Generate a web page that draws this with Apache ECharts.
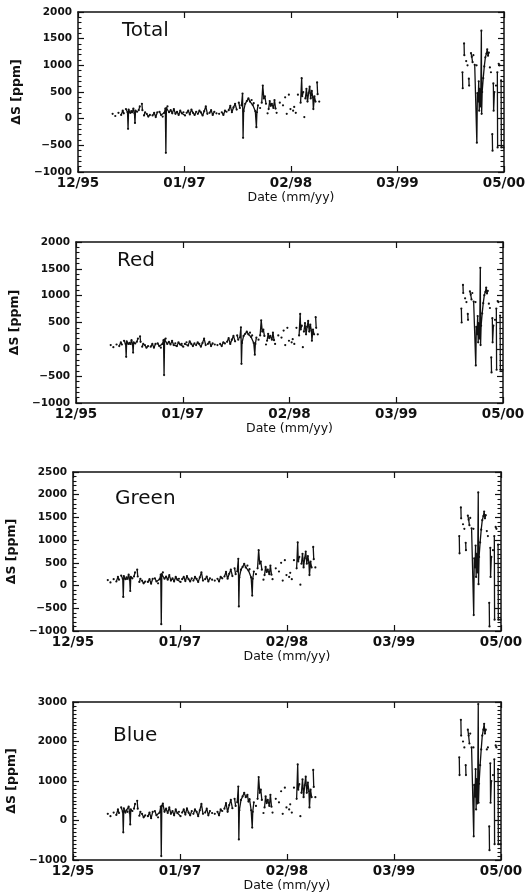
<!DOCTYPE html>
<html><head><meta charset="utf-8">
<script src="https://cdn.jsdelivr.net/npm/echarts@6/dist/echarts.min.js"></script>
<style>html,body{margin:0;padding:0;background:#fff}#c{width:528px;height:896px}</style>
</head><body><div id="c"></div>
<script>
// x positions are days since the 12/95 tick; ticks every 400 days
const tickLabels = ['12/95', '01/97', '02/98', '03/99', '05/00'];
const tickStep = 400;

const days = [
  130,140,152,162,168,172,180,186,188,190,
  196,200,204,208,212,214,216,222,228,232,
  240,242,248,252,258,264,270,280,286,292,
  298,306,312,318,324,328,330,332,336,342,
  348,354,360,366,372,378,384,390,396,402,
  408,414,420,426,432,438,444,450,456,462,
  468,474,480,486,494,500,506,512,520,530,
  540,546,552,558,566,572,578,584,590,596,
  604,608,614,618,620,622,628,634,640,646,
  652,656,660,666,670,672,676,684,690,694,
  698,702,706,712,716,720,724,728,734,738,
  742,746,758,770,778,784,792,798,808,812,
  818,826,836,840,842,846,850,854,858,862,
  866,870,874,878,882,884,888,892,898,900,
  906,1444,1445,1450,1451,1458,1463,1468,1469,1476,
  1479,1482,1485,1490,1497,1498,1500,1503,1505,1507,
  1509,1511,1513,1515,1516,1518,1522,1526,1530,1534,
  1537,1540,1543,1547,1551,1556,1557,1560,1561,1564,
  1570,1575,1576,1580,1583,1589,1590,1598
];

// the line is broken after these days (gaps in the record)
const breakAfter = [130,140,152,172,222,232,242,252,270,298,402,444,486,512,520,530,558,596,608,676,684,706,712,742,746,758,770,778,784,792,798,808,812,818,826,846,850,892,900,906,1445,1451,1458,1463,1469,1482,1485,1543,1547,1551,1557,1564,1570,1576,1583];

const total = [
  90,50,110,70,150,100,180,120,-190,170,
  110,140,120,190,100,-80,150,130,160,230,
  280,160,60,120,90,40,70,60,110,30,
  120,130,70,40,110,190,-640,200,230,120,
  160,100,180,90,130,70,150,100,120,60,
  110,150,80,170,110,70,130,90,150,120,
  60,140,230,90,110,160,70,130,100,90,
  120,70,150,130,160,240,120,210,280,170,
  300,200,250,470,-360,140,280,330,380,320,
  350,260,290,140,-160,120,250,200,300,620,
  380,420,280,100,180,330,240,280,200,350,
  190,110,300,250,400,90,450,180,150,220,
  110,450,300,760,420,500,30,380,560,320,
  480,600,380,520,400,180,420,320,680,460,
  320,870,570,1410,1190,1080,1000,750,620,1230,
  1160,1060,1190,1010,1000,-450,480,320,700,150,
  560,230,520,1650,90,500,760,980,1150,1220,
  1300,1180,1240,960,870,-290,-600,660,150,500,
  620,870,-540,1030,1000,720,-540,-540
];

const red = [
  80,40,90,60,130,90,160,100,-140,150,
  100,120,100,170,90,-60,130,110,140,200,
  240,140,50,100,80,30,60,50,100,30,
  100,110,60,30,100,170,-480,180,200,100,
  140,90,160,80,110,60,130,90,100,50,
  100,130,70,150,100,60,110,80,130,100,
  50,120,200,80,100,140,60,110,90,80,
  100,60,130,110,140,210,100,180,250,150,
  260,180,220,410,-270,120,250,290,330,280,
  310,230,260,120,-100,100,220,180,260,540,
  330,370,250,90,160,290,210,250,180,310,
  170,100,260,220,350,80,400,160,130,190,
  100,400,260,660,370,440,40,330,490,280,
  420,530,330,460,350,160,370,280,600,400,
  280,760,500,1200,1050,950,880,660,550,1080,
  1020,930,1050,890,880,-300,420,280,620,130,
  490,200,460,1520,80,440,670,860,1010,1070,
  1150,1040,1090,850,770,-150,-430,580,130,440,
  550,760,-380,900,880,630,-380,-380
];

const green = [
  120,70,140,90,190,130,220,150,-250,210,
  140,180,150,240,130,-120,190,160,200,290,
  350,200,80,150,110,50,90,80,140,40,
  150,160,90,50,140,240,-850,250,290,150,
  200,130,230,110,160,90,190,130,150,80,
  140,190,100,210,140,90,160,110,190,150,
  80,180,290,110,140,200,90,160,130,110,
  150,90,190,160,200,300,150,260,350,210,
  380,250,310,590,-460,180,350,410,480,400,
  440,330,360,180,-220,150,310,250,380,780,
  480,530,350,130,230,410,300,350,250,440,
  240,140,380,310,500,110,560,230,190,280,
  140,560,380,950,530,630,20,480,700,400,
  600,750,480,650,500,230,530,400,850,580,
  400,1090,710,1720,1480,1350,1250,940,780,1540,
  1450,1330,1490,1260,1250,-650,600,400,880,190,
  700,290,650,2050,30,630,950,1230,1440,1530,
  1630,1480,1550,1200,1090,-380,-900,830,190,630,
  780,1090,-750,1290,1250,900,-750,-750
];

const blue = [
  170,110,200,140,280,190,330,220,-300,310,
  200,260,220,350,190,-100,280,240,300,420,
  500,300,120,220,170,80,130,110,200,60,
  220,240,130,80,200,350,-900,370,430,220,
  300,190,330,170,240,130,280,190,220,110,
  200,280,150,310,200,130,240,170,280,220,
  110,260,420,170,200,300,130,240,190,170,
  220,130,280,240,300,440,220,390,520,310,
  550,370,460,860,-480,260,520,610,700,590,
  650,480,540,260,-180,220,460,370,550,1100,
  700,780,520,190,330,610,440,520,370,650,
  350,200,550,460,740,170,830,330,280,410,
  200,830,550,1420,780,920,110,700,1040,590,
  890,1110,700,960,740,330,780,590,1280,850,
  590,1600,1150,2550,2150,2000,1850,1400,1150,2300,
  2150,1950,2200,1850,1850,-400,900,600,1300,280,
  1050,430,960,2950,450,930,1400,1800,2150,2300,
  2450,2200,2300,1800,1850,-150,-750,1450,450,1000,
  1150,1550,-600,1900,1850,1300,-600,-600
];

const panelNames = ['Total', 'Red', 'Green', 'Blue'];
const panelValues = [total, red, green, blue];
const yMin = [-1000, -1000, -1000, -1000];
const yMax = [2000, 2000, 2500, 3000];
const yStep = [500, 500, 500, 1000];
const yMinorSplit = [5, 5, 5, 10];
const xName = 'Date (mm/yy)';
const yName = '\u0394S [ppm]';

// layout (pixels)
const layout = [
  {left: 78, right: 24, top: 12, height: 160, tl: 122, tt: 21},
  {left: 76, right: 25, top: 242, height: 161, tl: 117, tt: 251},
  {left: 73, right: 27, top: 472, height: 159, tl: 115, tt: 489},
  {left: 73, right: 27, top: 702, height: 158, tl: 113, tt: 726}
];

function buildData(vals) {
  const out = [];
  days.forEach((d, i) => {
    out.push([d, vals[i]]);
    if (breakAfter.indexOf(d) >= 0) out.push([d, '-']);
  });
  return out;
}

const FONT = 'DejaVu Sans';
const ink = '#111';
const grids = [], xAxes = [], yAxes = [], series = [], titles = [];

layout.forEach((L, p) => {
  grids.push({left: L.left, right: L.right, top: L.top, height: L.height,
    containLabel: false, outerBoundsMode: 'none'});
  titles.push({text: panelNames[p], left: L.tl, top: L.tt, padding: 0,
    textStyle: {fontFamily: FONT, fontSize: 20, fontWeight: 'normal', color: ink}});
  const xBase = {
    type: 'value', gridIndex: p, min: 0, max: tickStep * (tickLabels.length - 1), interval: tickStep,
    axisLine: {show: true, onZero: false, lineStyle: {color: ink, width: 1.5}},
    axisTick: {show: true, inside: true, length: 6, lineStyle: {color: ink, width: 1.2}},
    splitLine: {show: false}
  };
  xAxes.push(Object.assign({}, xBase, {
    position: 'bottom',
    name: xName, nameLocation: 'middle', nameGap: 18,
    nameTextStyle: {fontFamily: FONT, fontSize: 12.5, color: ink},
    axisLabel: {show: true, margin: 4, showMinLabel: true, showMaxLabel: true,
      fontFamily: FONT, fontSize: 13.5, fontWeight: 'bold', color: ink,
      formatter: v => tickLabels[Math.round(v / tickStep)]}
  }));
  xAxes.push(Object.assign({}, xBase, {position: 'top', axisLabel: {show: false}}));
  const yBase = {
    type: 'value', gridIndex: p, min: yMin[p], max: yMax[p], interval: yStep[p],
    axisLine: {show: true, onZero: false, lineStyle: {color: ink, width: 1.5}},
    axisTick: {show: true, inside: true, length: 6, lineStyle: {color: ink, width: 1.2}},
    minorTick: {show: true, splitNumber: yMinorSplit[p], length: 3.5, lineStyle: {color: ink, width: 1.1}},
    splitLine: {show: false}
  };
  yAxes.push(Object.assign({}, yBase, {
    position: 'left',
    name: yName, nameLocation: 'middle', nameGap: 54,
    nameTextStyle: {fontFamily: FONT, fontSize: 12.5, fontWeight: 'bold', color: ink},
    axisLabel: {show: true, margin: 6, showMinLabel: true, showMaxLabel: true,
      fontFamily: FONT, fontSize: 10.5, fontWeight: 'bold', color: ink,
      formatter: v => (v < 0 ? '\u2212' : '') + String(Math.abs(v))}
  }));
  yAxes.push(Object.assign({}, yBase, {position: 'right', axisLabel: {show: false}}));
  series.push({
    type: 'line', xAxisIndex: 2 * p, yAxisIndex: 2 * p,
    data: buildData(panelValues[p]),
    symbol: 'circle', symbolSize: 2.2, showSymbol: true,
    itemStyle: {color: ink}, lineStyle: {color: ink, width: 1.3},
    connectNulls: false, clip: true, animation: false
  });
});

const chart = echarts.init(document.getElementById('c'), null, {renderer: 'canvas'});
chart.setOption({
  animation: false, backgroundColor: '#fff',
  title: titles, grid: grids, xAxis: xAxes, yAxis: yAxes, series: series
});
</script></body></html>
